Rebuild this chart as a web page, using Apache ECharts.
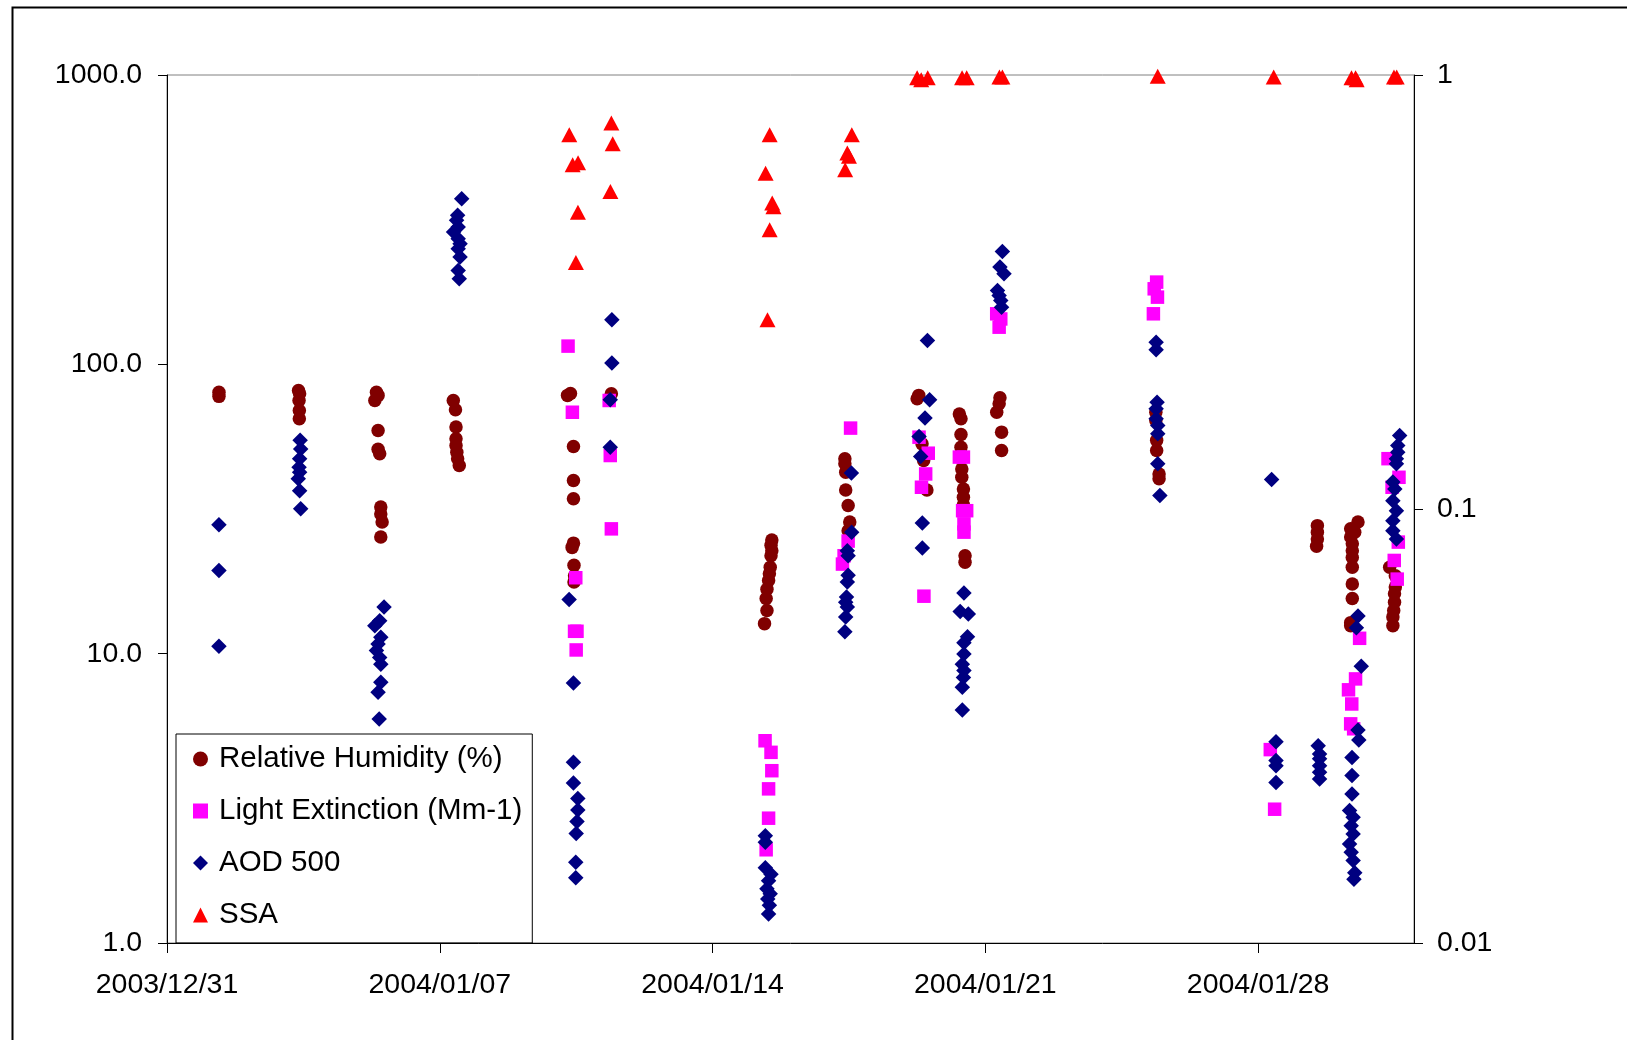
<!DOCTYPE html>
<html>
<head>
<meta charset="utf-8">
<script src="https://cdn.jsdelivr.net/npm/echarts@6/dist/echarts.min.js"></script>
<style>
html,body{margin:0;padding:0;background:#fff;}
#chart{width:1627px;height:1040px;}
</style>
</head>
<body>
<div id="chart"></div>
<script>
// ---- tick labels ----
const xTickDates = ['2003-12-31 00:00', '2004-01-07 00:00', '2004-01-14 00:00', '2004-01-21 00:00', '2004-01-28 00:00'];
const xStart = '2003-12-31 00:00';
const xEnd = '2004-02-01 00:00';
const leftTicks = [1, 10, 100, 1000];
const rightTicks = [0.01, 0.1, 1];
const seriesNames = ['Relative Humidity (%)', 'Light Extinction (Mm-1)', 'AOD 500', 'SSA'];

// ---- data: [time, value] ----
const rhData = [
  ['2004-01-01 08:00', 80.0], ['2004-01-01 08:00', 77.5],
  ['2004-01-03 09:00', 81.2], ['2004-01-03 09:40', 79.1], ['2004-01-03 09:20', 75.0], ['2004-01-03 09:30', 69.3], ['2004-01-03 09:30', 64.9],
  ['2004-01-05 09:00', 80.1], ['2004-01-05 10:00', 78.1], ['2004-01-05 08:00', 75.0], ['2004-01-05 10:00', 59.1], ['2004-01-05 10:00', 50.9], ['2004-01-05 11:00', 49.1], ['2004-01-05 11:40', 32.1], ['2004-01-05 11:40', 30.4], ['2004-01-05 12:30', 28.5], ['2004-01-05 11:40', 25.3],
  ['2004-01-07 08:20', 75.0], ['2004-01-07 09:40', 69.7], ['2004-01-07 10:00', 60.7], ['2004-01-07 10:00', 55.3], ['2004-01-07 10:00', 52.4], ['2004-01-07 10:30', 49.7], ['2004-01-07 11:00', 47.2], ['2004-01-07 12:00', 44.7],
  ['2004-01-10 08:30', 79.3], ['2004-01-10 06:40', 78.1], ['2004-01-10 10:20', 52.0], ['2004-01-10 10:20', 39.7], ['2004-01-10 10:20', 34.3], ['2004-01-10 10:20', 24.1], ['2004-01-10 09:30', 23.3], ['2004-01-10 10:40', 20.2], ['2004-01-10 11:00', 18.6], ['2004-01-10 10:40', 17.7],
  ['2004-01-11 09:40', 79.1],
  ['2004-01-15 12:30', 24.7], ['2004-01-15 12:00', 23.7], ['2004-01-15 12:30', 22.7], ['2004-01-15 12:00', 21.8], ['2004-01-15 11:30', 19.9], ['2004-01-15 11:00', 18.9], ['2004-01-15 10:30', 17.9], ['2004-01-15 09:30', 16.7], ['2004-01-15 09:00', 15.5], ['2004-01-15 09:30', 14.1], ['2004-01-15 08:00', 12.7],
  ['2004-01-17 09:30', 47.2], ['2004-01-17 09:30', 45.3], ['2004-01-17 10:00', 42.4], ['2004-01-17 10:00', 36.8], ['2004-01-17 11:30', 32.5], ['2004-01-17 12:30', 28.5], ['2004-01-17 11:30', 26.6],
  ['2004-01-19 07:00', 78.1], ['2004-01-19 06:00', 76.0], ['2004-01-19 09:00', 53.1], ['2004-01-19 10:00', 46.5], ['2004-01-19 12:00', 36.8],
  ['2004-01-20 08:00', 67.4], ['2004-01-20 09:00', 64.8], ['2004-01-20 09:00', 57.2], ['2004-01-20 09:00', 51.7], ['2004-01-20 09:30', 43.5], ['2004-01-20 09:30', 40.7], ['2004-01-20 10:30', 37.1], ['2004-01-20 10:30', 34.7], ['2004-01-20 10:30', 32.7], ['2004-01-20 11:30', 21.8], ['2004-01-20 11:30', 20.7],
  ['2004-01-21 09:00', 76.6], ['2004-01-21 08:30', 73.1], ['2004-01-21 07:00', 68.3], ['2004-01-21 10:00', 58.3], ['2004-01-21 10:00', 50.4],
  ['2004-01-25 09:00', 68.3], ['2004-01-25 09:00', 63.9], ['2004-01-25 09:30', 54.6], ['2004-01-25 09:30', 50.4], ['2004-01-25 11:00', 41.8], ['2004-01-25 11:00', 40.2],
  ['2004-01-29 12:30', 27.7], ['2004-01-29 12:30', 26.3], ['2004-01-29 12:30', 24.9], ['2004-01-29 12:00', 23.5],
  ['2004-01-30 13:30', 28.5], ['2004-01-30 09:00', 27.0], ['2004-01-30 11:30', 26.3], ['2004-01-30 09:00', 25.3], ['2004-01-30 10:00', 24.0], ['2004-01-30 10:00', 22.7], ['2004-01-30 10:00', 21.5], ['2004-01-30 10:00', 19.9], ['2004-01-30 10:00', 17.4], ['2004-01-30 10:00', 15.5], ['2004-01-30 09:00', 12.8], ['2004-01-30 09:00', 12.5],
  ['2004-01-31 09:00', 19.9], ['2004-01-31 12:30', 18.6], ['2004-01-31 12:30', 17.0], ['2004-01-31 12:00', 16.1], ['2004-01-31 12:00', 15.05], ['2004-01-31 11:30', 14.1], ['2004-01-31 11:00', 13.4], ['2004-01-31 11:00', 12.5]
];

const extinctionData = [
  ['2004-01-10 07:00', 115.6], ['2004-01-10 09:40', 68.3], ['2004-01-10 11:45', 18.3], ['2004-01-10 11:00', 11.95], ['2004-01-10 12:30', 11.95], ['2004-01-10 12:00', 10.3],
  ['2004-01-11 08:20', 75.0], ['2004-01-11 09:00', 48.4], ['2004-01-11 09:40', 27.0],
  ['2004-01-15 08:20', 5.00], ['2004-01-15 12:00', 4.56], ['2004-01-15 12:30', 3.94], ['2004-01-15 10:30', 3.41], ['2004-01-15 10:30', 2.70], ['2004-01-15 09:00', 2.10],
  ['2004-01-17 13:00', 60.2], ['2004-01-17 11:30', 24.5], ['2004-01-17 09:00', 21.8], ['2004-01-17 08:00', 20.4],
  ['2004-01-19 07:10', 56.0], ['2004-01-19 12:50', 49.3], ['2004-01-19 11:15', 41.8], ['2004-01-19 08:40', 37.6], ['2004-01-19 10:10', 15.8],
  ['2004-01-20 08:00', 47.8], ['2004-01-20 10:30', 47.8], ['2004-01-20 10:00', 31.2], ['2004-01-20 12:30', 31.2], ['2004-01-20 10:50', 28.1], ['2004-01-20 10:50', 26.3],
  ['2004-01-21 07:00', 149.5], ['2004-01-21 09:30', 143.5], ['2004-01-21 08:30', 134.4],
  ['2004-01-25 09:30', 192.4], ['2004-01-25 08:00', 182.4], ['2004-01-25 10:00', 170.7], ['2004-01-25 07:30', 149.5],
  ['2004-01-28 07:30', 4.66], ['2004-01-28 10:10', 2.90],
  ['2004-01-30 14:30', 11.3], ['2004-01-30 12:00', 8.18], ['2004-01-30 07:40', 7.50], ['2004-01-30 09:40', 6.70], ['2004-01-30 09:00', 5.72], ['2004-01-30 10:50', 5.50],
  ['2004-01-31 08:00', 47.2], ['2004-01-31 14:45', 40.7], ['2004-01-31 10:30', 37.6], ['2004-01-31 14:20', 24.3], ['2004-01-31 11:50', 21.0], ['2004-01-31 13:40', 18.1]
];

const aodData = [
  ['2004-01-01 08:00', 27.9], ['2004-01-01 08:00', 19.4], ['2004-01-01 08:00', 10.6],
  ['2004-01-03 10:00', 54.6], ['2004-01-03 10:20', 51.0], ['2004-01-03 09:40', 47.2], ['2004-01-03 09:20', 44.1], ['2004-01-03 09:40', 42.4], ['2004-01-03 08:50', 40.2], ['2004-01-03 09:40', 36.6], ['2004-01-03 10:20', 31.7],
  ['2004-01-05 13:40', 14.5], ['2004-01-05 11:00', 13.0], ['2004-01-05 08:00', 12.5], ['2004-01-05 11:40', 11.4], ['2004-01-05 10:00', 10.8], ['2004-01-05 09:00', 10.25], ['2004-01-05 11:00', 9.7], ['2004-01-05 11:40', 9.2], ['2004-01-05 11:40', 7.96], ['2004-01-05 10:00', 7.35], ['2004-01-05 10:40', 5.95],
  ['2004-01-07 13:30', 373.6], ['2004-01-07 11:00', 327.3], ['2004-01-07 10:20', 314.6], ['2004-01-07 11:20', 298.1], ['2004-01-07 08:30', 286.5], ['2004-01-07 11:20', 271.8], ['2004-01-07 12:30', 261.2], ['2004-01-07 11:20', 250.9], ['2004-01-07 12:30', 234.9], ['2004-01-07 11:20', 211.2], ['2004-01-07 12:00', 197.7],
  ['2004-01-10 07:40', 15.4], ['2004-01-10 10:20', 7.92], ['2004-01-10 10:20', 4.21], ['2004-01-10 10:20', 3.57], ['2004-01-10 13:00', 3.16], ['2004-01-10 13:00', 2.88], ['2004-01-10 12:30', 2.63], ['2004-01-10 12:00', 2.39], ['2004-01-10 11:45', 1.90], ['2004-01-10 11:45', 1.68],
  ['2004-01-11 10:00', 142.5], ['2004-01-11 10:00', 101.0], ['2004-01-11 09:00', 75.4], ['2004-01-11 09:00', 51.7],
  ['2004-01-15 08:30', 2.35], ['2004-01-15 08:30', 2.23], ['2004-01-15 08:30', 1.82], ['2004-01-15 12:00', 1.73], ['2004-01-15 10:30', 1.64], ['2004-01-15 09:30', 1.54], ['2004-01-15 11:30', 1.48], ['2004-01-15 10:00', 1.42], ['2004-01-15 11:00', 1.35], ['2004-01-15 10:30', 1.26],
  ['2004-01-17 13:30', 42.1], ['2004-01-17 13:40', 26.3], ['2004-01-17 11:00', 22.7], ['2004-01-17 11:30', 21.8], ['2004-01-17 11:30', 18.65], ['2004-01-17 11:00', 17.7], ['2004-01-17 10:30', 15.7], ['2004-01-17 10:00', 15.05], ['2004-01-17 11:00', 14.5], ['2004-01-17 10:00', 13.4], ['2004-01-17 09:30', 11.9],
  ['2004-01-19 12:20', 120.9], ['2004-01-19 13:40', 75.5], ['2004-01-19 10:50', 65.3], ['2004-01-19 07:10', 56.3], ['2004-01-19 08:10', 48.0], ['2004-01-19 09:10', 28.3], ['2004-01-19 09:10', 23.2],
  ['2004-01-20 10:50', 16.2], ['2004-01-20 08:30', 14.0], ['2004-01-20 13:30', 13.7], ['2004-01-20 13:00', 11.45], ['2004-01-20 10:50', 10.9], ['2004-01-20 10:50', 9.97], ['2004-01-20 09:50', 9.2], ['2004-01-20 10:50', 8.74], ['2004-01-20 10:30', 8.28], ['2004-01-20 09:50', 7.65], ['2004-01-20 09:50', 6.39],
  ['2004-01-21 10:30', 245.7], ['2004-01-21 09:00', 216.9], ['2004-01-21 11:30', 205.7], ['2004-01-21 07:30', 180.1], ['2004-01-21 08:30', 173.1], ['2004-01-21 09:30', 166.3], ['2004-01-21 10:00', 157.6],
  ['2004-01-25 09:10', 119.3], ['2004-01-25 09:10', 112.4], ['2004-01-25 09:45', 74.0], ['2004-01-25 09:10', 70.2], ['2004-01-25 09:10', 64.8], ['2004-01-25 10:10', 61.5], ['2004-01-25 10:10', 57.5], ['2004-01-25 10:10', 45.3], ['2004-01-25 11:30', 35.2],
  ['2004-01-28 08:20', 40.0], ['2004-01-28 11:00', 4.96], ['2004-01-28 11:00', 4.27], ['2004-01-28 11:00', 4.10], ['2004-01-28 11:00', 3.59],
  ['2004-01-29 13:00', 4.81], ['2004-01-29 13:50', 4.50], ['2004-01-29 13:50', 4.33], ['2004-01-29 13:50', 4.10], ['2004-01-29 13:50', 3.89], ['2004-01-29 13:50', 3.69],
  ['2004-01-30 13:30', 13.5], ['2004-01-30 12:30', 12.3], ['2004-01-30 15:30', 9.04], ['2004-01-30 13:30', 5.45], ['2004-01-30 14:00', 5.03], ['2004-01-30 09:50', 4.38], ['2004-01-30 09:50', 3.79], ['2004-01-30 09:50', 3.27], ['2004-01-30 08:20', 2.87], ['2004-01-30 10:30', 2.72], ['2004-01-30 09:20', 2.54], ['2004-01-30 10:30', 2.38], ['2004-01-30 08:20', 2.20], ['2004-01-30 09:20', 2.06], ['2004-01-30 10:30', 1.93], ['2004-01-30 11:30', 1.75], ['2004-01-30 11:00', 1.66],
  ['2004-01-31 15:10', 56.8], ['2004-01-31 14:00', 52.4], ['2004-01-31 14:00', 49.7], ['2004-01-31 13:10', 47.2], ['2004-01-31 13:10', 45.3], ['2004-01-31 11:00', 39.2], ['2004-01-31 12:10', 37.1], ['2004-01-31 11:00', 33.8], ['2004-01-31 13:10', 31.2], ['2004-01-31 11:00', 28.8], ['2004-01-31 11:00', 26.6], ['2004-01-31 13:10', 24.9]
];

const ssaData = [
  ['2004-01-10 07:45', 0.728], ['2004-01-10 09:50', 0.621], ['2004-01-10 13:10', 0.628], ['2004-01-10 13:05', 0.483], ['2004-01-10 11:50', 0.370],
  ['2004-01-11 09:40', 0.775], ['2004-01-11 10:30', 0.694], ['2004-01-11 09:05', 0.539],
  ['2004-01-15 11:10', 0.728], ['2004-01-15 08:40', 0.594], ['2004-01-15 12:45', 0.507], ['2004-01-15 13:30', 0.497], ['2004-01-15 11:10', 0.440], ['2004-01-15 09:50', 0.273],
  ['2004-01-17 13:45', 0.728], ['2004-01-17 11:00', 0.661], ['2004-01-17 12:00', 0.650], ['2004-01-17 09:40', 0.605],
  ['2004-01-19 06:00', 0.985], ['2004-01-19 08:30', 0.975], ['2004-01-19 12:30', 0.985],
  ['2004-01-20 09:40', 0.985], ['2004-01-20 12:30', 0.985],
  ['2004-01-21 08:40', 0.99], ['2004-01-21 10:30', 0.99],
  ['2004-01-25 10:10', 0.993],
  ['2004-01-28 09:35', 0.99],
  ['2004-01-30 09:30', 0.985], ['2004-01-30 12:00', 0.985], ['2004-01-30 12:40', 0.975],
  ['2004-01-31 11:40', 0.99], ['2004-01-31 13:20', 0.99]
];

// ---- helpers: times -> days since start ----
function toMs(s) {
  const parts = s.split(' ');
  const d = parts[0].split('-').map(Number);
  const hm = parts[1].split(':').map(Number);
  return Date.UTC(d[0], d[1] - 1, d[2], hm[0], hm[1]);
}
const DAY = 86400000;
const BASE = toMs(xStart);
function toDay(s) { return (toMs(s) - BASE) / DAY; }
function conv(arr) { return arr.map(p => [toDay(p[0]), p[1]]); }
function fmtDay(v) {
  const dt = new Date(BASE + Math.round(v * DAY));
  const y = dt.getUTCFullYear();
  const m = String(dt.getUTCMonth() + 1).padStart(2, '0');
  const d = String(dt.getUTCDate()).padStart(2, '0');
  return y + '/' + m + '/' + d;
}
const xTickValues = xTickDates.map(toDay);

const FONT = 'Liberation Sans, Arial, Helvetica, sans-serif';
const chart = echarts.init(document.getElementById('chart'), null, { renderer: 'canvas' });

chart.setOption({
  animation: false,
  backgroundColor: '#fff',
  textStyle: { fontFamily: FONT },
  graphic: [{
    type: 'rect', left: 10, top: 5, z: -10,
    shape: { width: 1700, height: 1100 },
    style: { fill: null, stroke: '#000', lineWidth: 2 }
  }],
  grid: {
    left: 167, right: 213, top: 75, bottom: 97,
    show: true, borderColor: '#808080', borderWidth: 1,
    containLabel: false, outerBoundsMode: 'none'
  },
  legend: {
    orient: 'vertical', left: 176, top: 734,
    padding: [10, 10, 13, 17],
    itemWidth: 15, itemHeight: 15, itemGap: 22,
    borderColor: '#000', borderWidth: 1, borderRadius: 0,
    selectedMode: false,
    textStyle: { fontSize: 29.5, fontFamily: FONT, color: '#000', lineHeight: 30, padding: [0, 0, 0, 6] },
    data: seriesNames
  },
  xAxis: {
    type: 'value',
    min: toDay(xStart), max: toDay(xEnd), interval: 7,
    splitLine: { show: false },
    axisLine: { lineStyle: { color: '#000', width: 1 } },
    axisTick: { show: true, length: 10, inside: false, lineStyle: { color: '#000' }, customValues: xTickValues },
    axisLabel: {
      fontSize: 28.5, fontFamily: FONT, color: '#000', margin: 28,
      customValues: xTickValues,
      formatter: v => fmtDay(v)
    }
  },
  yAxis: [{
    type: 'log', logBase: 10, min: leftTicks[0], max: leftTicks[leftTicks.length - 1],
    position: 'left',
    splitLine: { show: false },
    axisLine: { show: true, lineStyle: { color: '#000', width: 1 } },
    axisTick: { show: true, length: 9, lineStyle: { color: '#000' } },
    axisLabel: { fontSize: 28.5, fontFamily: FONT, color: '#000', margin: 25, formatter: v => Number(v).toFixed(1) }
  }, {
    type: 'log', logBase: 10, min: rightTicks[0], max: rightTicks[rightTicks.length - 1],
    position: 'right',
    splitLine: { show: false },
    axisLine: { show: true, lineStyle: { color: '#000', width: 1 } },
    axisTick: { show: true, length: 9, lineStyle: { color: '#000' } },
    axisLabel: { fontSize: 28.5, fontFamily: FONT, color: '#000', margin: 23, formatter: v => String(parseFloat(Number(v).toPrecision(2))) }
  }],
  series: [{
    name: seriesNames[0], type: 'scatter', yAxisIndex: 0,
    symbol: 'circle', symbolSize: 13.5,
    itemStyle: { color: '#800000', opacity: 1 },
    data: conv(rhData)
  }, {
    name: seriesNames[1], type: 'scatter', yAxisIndex: 0,
    symbol: 'rect', symbolSize: 13.5,
    itemStyle: { color: '#FF00FF', opacity: 1 },
    data: conv(extinctionData)
  }, {
    name: seriesNames[2], type: 'scatter', yAxisIndex: 0,
    symbol: 'diamond', symbolSize: 15.5,
    itemStyle: { color: '#000080', opacity: 1 },
    data: conv(aodData)
  }, {
    name: seriesNames[3], type: 'scatter', yAxisIndex: 1,
    symbol: 'triangle', symbolSize: [16, 15],
    itemStyle: { color: '#FF0000', opacity: 1 },
    data: conv(ssaData)
  }]
});
</script>
</body>
</html>
